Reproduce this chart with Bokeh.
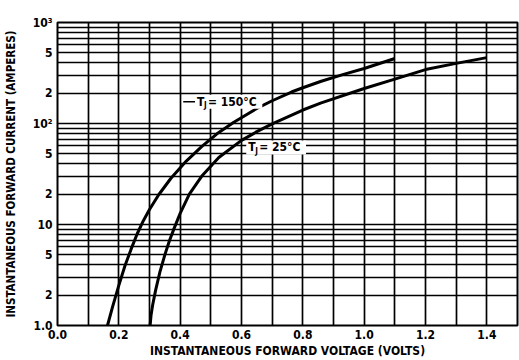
from bokeh.plotting import figure
from bokeh.models import FixedTicker, Label, Range1d
from bokeh.embed import file_html
from bokeh.resources import INLINE

# ---- data ----
v_150 = [0.163, 0.18, 0.20, 0.22, 0.24, 0.26, 0.28, 0.30, 0.33, 0.37, 0.42, 0.47, 0.52, 0.575, 0.65, 0.70, 0.763, 0.80, 0.86, 0.93, 1.00, 1.10]
i_150 = [1.0, 1.55, 2.5, 3.9, 5.7, 8.1, 10.9, 14.1, 19.7, 28.7, 42.5, 59, 79, 103, 141, 168, 205, 226, 262, 305, 350, 440]

v_25 = [0.302, 0.305, 0.31, 0.32, 0.334, 0.35, 0.365, 0.38, 0.40, 0.43, 0.47, 0.526, 0.60, 0.65, 0.70, 0.80, 0.86, 1.00, 1.10, 1.20, 1.30, 1.40]
i_25 = [1.0, 1.26, 1.58, 2.24, 3.4, 5.0, 6.9, 9.1, 12.9, 20, 30, 46, 68, 83, 99, 136, 160, 222, 275, 342, 394, 449]

x_ticks = [0.0, 0.2, 0.4, 0.6, 0.8, 1.0, 1.2, 1.4]
x_tick_labels = ["0.0", "0.2", "0.4", "0.6", "0.8", "1.0", "1.2", "1.4"]
x_grid = [round(0.1 * k, 1) for k in range(0, 16)]

y_ticks = [1, 2, 5, 10, 20, 50, 100, 200, 500, 1000]
y_tick_labels = ["1.0", "2", "5", "10", "2", "5", "10²", "2", "5", "10³"]
y_grid = [m * d for d in (1, 10, 100) for m in range(1, 10)] + [1000]

label_150 = ("T", "J", " = 150°C")
label_25 = ("T", "J", " = 25°C")
x_title = "INSTANTANEOUS FORWARD VOLTAGE (VOLTS)"
y_title = "INSTANTANEOUS FORWARD CURRENT (AMPERES)"

FONT = "'Liberation Sans Narrow', 'DejaVu Sans Condensed', 'Roboto Condensed', 'Liberation Sans', sans-serif"

p = figure(width=519, height=360, y_axis_type="log",
           x_range=Range1d(0, 1.5), y_range=Range1d(1, 1000),
           output_backend="svg", toolbar_location=None,
           min_border_left=55, min_border_right=2, min_border_top=22, min_border_bottom=33)
p.background_fill_color = "white"
p.border_fill_color = "white"
p.outline_line_color = "black"
p.outline_line_width = 2

# grids
p.xgrid.ticker = FixedTicker(ticks=x_grid)
p.ygrid.ticker = FixedTicker(ticks=y_grid)
for g in (p.xgrid, p.ygrid):
    g.grid_line_color = "black"
    g.grid_line_width = 1.7
    g.grid_line_alpha = 1.0
p.ygrid.minor_grid_line_color = None

# axes
p.xaxis.ticker = FixedTicker(ticks=x_ticks)
p.xaxis.major_label_overrides = {t: s for t, s in zip(x_ticks, x_tick_labels)}
p.yaxis.ticker = FixedTicker(ticks=y_ticks)
p.yaxis.major_label_overrides = {t: s for t, s in zip(y_ticks, y_tick_labels)}
for ax in (p.xaxis, p.yaxis):
    ax.axis_line_color = None
    ax.major_tick_line_color = None
    ax.minor_tick_line_color = None
    ax.major_tick_out = 0
    ax.major_tick_in = 0
    ax.major_label_text_font = FONT
    ax.major_label_text_font_style = "bold"
    ax.major_label_text_font_size = "12px"
    ax.major_label_text_color = "black"
    ax.axis_label_text_font = FONT
    ax.axis_label_text_font_style = "bold"
    ax.axis_label_text_color = "black"
p.xaxis.axis_label = x_title
p.yaxis.axis_label = y_title
p.xaxis.axis_label_text_font_size = "12px"
p.yaxis.axis_label_text_font_size = "11.5px"
p.xaxis.major_label_standoff = 4
p.yaxis.major_label_standoff = 5
p.xaxis.axis_label_standoff = 2
p.yaxis.axis_label_standoff = 12

# curves
p.line(v_150, i_150, line_color="black", line_width=3, line_join="round")
p.line(v_25, i_25, line_color="black", line_width=3, line_join="round")

# leader line for 150 label
p.line([0.41, 0.665], [164, 164], line_color="black", line_width=1.6)

def add_label(parts, x, y):
    t, sub, rest = parts
    common = dict(x=x, y=y, text_font=FONT, text_font_style="bold", text_color="black",
                  text_baseline="middle")
    full = Label(text=t + "  " + rest, text_font_size="12px", background_fill_color="white",
                 text_color="white", x=x, y=y, text_font=FONT, text_font_style="bold",
                 text_baseline="middle", x_offset=-2)
    p.add_layout(full)
    p.add_layout(Label(text=t, text_font_size="12px", **common))
    p.add_layout(Label(text=sub, text_font_size="8px", x_offset=7, y_offset=-4, **common))
    p.add_layout(Label(text=rest, text_font_size="12px", x_offset=11, **common))

add_label(label_150, 0.455, 164)
add_label(label_25, 0.622, 58)

open("out.html", "w").write(file_html(p, INLINE))
